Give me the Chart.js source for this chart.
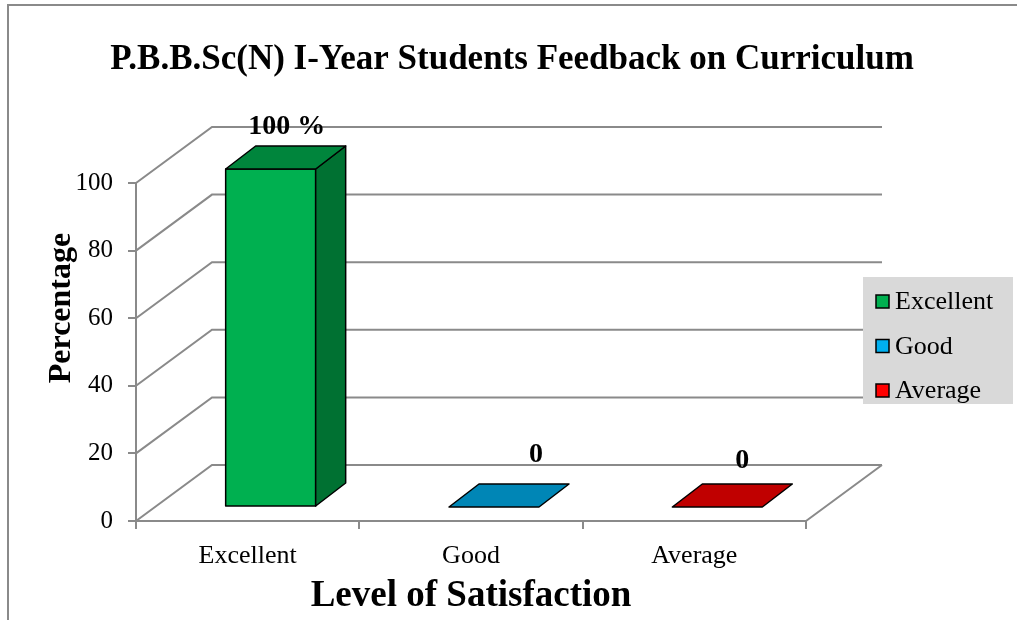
<!DOCTYPE html>
<html>
<head>
<meta charset="utf-8">
<script src="https://cdn.jsdelivr.net/npm/chart.js@4"></script>
<style>
	html, body { margin: 0; padding: 0; background: #fff; }
	#wrap { width: 1017px; height: 620px; }
</style>
</head>
<body>
<div id="wrap"><canvas id="chart"></canvas></div>
<script>
const categories = ["Excellent", "Good", "Average"];
const percentages = [100, 0, 0];
const valueLabels = ["100 %", "0", "0"];
const yTicks = [0, 20, 40, 60, 80, 100];

const chartTitle = "P.B.B.Sc(N) I-Year Students Feedback on Curriculum";
const yTitle = "Percentage";
const xTitle = "Level of Satisfaction";

// colours of the faces, Excel 3D style
const legendColors = ["#00B050", "#00B0F0", "#FF0000"];
const frontColors = ["#00B050", "#00B0F0", "#FF0000"];
const topColors = ["#00853C", "#0086B6", "#C00000"];
const sideColors = ["#007132", "#006E96", "#A00000"];

const SERIF = "'Liberation Serif', 'Times New Roman', serif";
const GRID = "#8a8a8a";
const WALL = { x: 76, y: -56 };
const BAR_FRONT = { x: 23, y: -14 };
const BAR_DEPTH = { x: 30, y: -23 };
const labelShift = [[1, -12], [27, -22], [10, -16]];

function poly(ctx, pts, fill) {
	ctx.beginPath();
	ctx.moveTo(pts[0][0], pts[0][1]);
	for (let i = 1; i < pts.length; i++) ctx.lineTo(pts[i][0], pts[i][1]);
	ctx.closePath();
	ctx.fillStyle = fill;
	ctx.fill();
	ctx.stroke();
}

const excelLook = {
	id: "excelLook",
	beforeDraw(chart) {
		const { ctx, width, height } = chart;
		ctx.save();
		ctx.fillStyle = "#fff";
		ctx.fillRect(0, 0, width, height);
		ctx.strokeStyle = GRID;
		ctx.lineWidth = 2;
		ctx.beginPath();
		ctx.moveTo(8, height);
		ctx.lineTo(8, 5);
		ctx.lineTo(width, 5);
		ctx.stroke();

		ctx.fillStyle = "#000";
		ctx.textAlign = "center";
		ctx.textBaseline = "alphabetic";
		ctx.font = "bold 35px " + SERIF;
		ctx.fillText(chartTitle, 512, 69);

		ctx.translate(70, 308);
		ctx.rotate(-Math.PI / 2);
		ctx.font = "bold 32px " + SERIF;
		ctx.fillText(yTitle, 0, 0);
		ctx.restore();
	},
	beforeDatasetsDraw(chart) {
		const { ctx, chartArea } = chart;
		const y = chart.scales.y;
		ctx.save();
		ctx.strokeStyle = GRID;
		ctx.lineWidth = 2;
		ctx.beginPath();
		yTicks.forEach(v => {
			const py = y.getPixelForValue(v);
			ctx.moveTo(chartArea.left, py);
			ctx.lineTo(chartArea.left + WALL.x, py + WALL.y);
			ctx.lineTo(chartArea.right + WALL.x, py + WALL.y);
		});
		ctx.moveTo(chartArea.right, chartArea.bottom);
		ctx.lineTo(chartArea.right + WALL.x, chartArea.bottom + WALL.y);
		ctx.stroke();
		ctx.restore();
	},
	afterDatasetsDraw(chart) {
		const { ctx } = chart;
		const meta = chart.getDatasetMeta(0);
		ctx.save();
		ctx.strokeStyle = "#000";
		ctx.lineWidth = 1.5;
		ctx.lineJoin = "round";
		meta.data.forEach((bar, i) => {
			const x0 = bar.x - bar.width / 2 + BAR_FRONT.x;
			const x1 = bar.x + bar.width / 2 + BAR_FRONT.x;
			const top = bar.y + BAR_FRONT.y;
			const base = bar.base + BAR_FRONT.y;
			const dx = BAR_DEPTH.x, dy = BAR_DEPTH.y;
			if (base - top > 0.5) {
				poly(ctx, [[x0, top], [x1, top], [x1, base], [x0, base]], frontColors[i]);
				poly(ctx, [[x1, top], [x1 + dx, top + dy], [x1 + dx, base + dy], [x1, base]], sideColors[i]);
			}
			poly(ctx, [[x0, top], [x0 + dx, top + dy], [x1 + dx, top + dy], [x1, top]], topColors[i]);

			ctx.fillStyle = "#000";
			ctx.font = "bold 28px " + SERIF;
			ctx.textAlign = "center";
			ctx.textBaseline = "alphabetic";
			ctx.fillText(valueLabels[i], (x0 + x1) / 2 + dx / 2 + labelShift[i][0], top + dy + labelShift[i][1]);
		});
		ctx.restore();
	},
	afterDraw(chart) {
		const { ctx } = chart;
		ctx.save();
		ctx.fillStyle = "#d9d9d9";
		ctx.fillRect(863, 277, 150, 127);
		ctx.font = "26px " + SERIF;
		ctx.textAlign = "left";
		ctx.textBaseline = "alphabetic";
		ctx.lineWidth = 1.5;
		ctx.strokeStyle = "#000";
		categories.forEach((name, i) => {
			const baseline = 309 + i * 44.5;
			ctx.fillStyle = legendColors[i];
			ctx.fillRect(876, baseline - 14, 13, 13);
			ctx.strokeRect(876, baseline - 14, 13, 13);
			ctx.fillStyle = "#000";
			ctx.fillText(name, 895, baseline);
		});
		ctx.restore();
	}
};

const ctx = document.getElementById("chart").getContext("2d");
const myChart = new Chart(ctx, {
	type: "bar",
	data: {
		labels: categories,
		datasets: [
			{
				label: "Percentage",
				data: percentages,
				backgroundColor: "rgba(0,0,0,0)",
				borderWidth: 0,
				categoryPercentage: 1,
				barPercentage: 0.403,
			},
		],
	},
	options: {
		responsive: true,
		maintainAspectRatio: false,
		animation: false,
		events: [],
		layout: { padding: { left: 8, right: 211, top: 183, bottom: 0 } },
		plugins: {
			legend: { display: false },
			tooltip: { enabled: false },
		},
		scales: {
			x: {
				grid: { offset: true, drawOnChartArea: false, drawTicks: true, tickLength: 8, color: GRID, lineWidth: 2 },
				border: { display: true, color: GRID, width: 2 },
				ticks: { color: "#000", font: { family: SERIF, size: 26 }, padding: 12, maxRotation: 0 },
				title: {
					display: true,
					text: xTitle,
					color: "#000",
					font: { family: SERIF, size: 37, weight: "bold" },
					padding: { top: 0, bottom: 1 },
				},
				afterFit(scale) { scale.height = 99; },
			},
			y: {
				min: 0,
				max: 100,
				afterBuildTicks(scale) { scale.ticks = yTicks.map(v => ({ value: v })); },
				grid: { drawOnChartArea: false, drawTicks: true, tickLength: 8, color: GRID, lineWidth: 2 },
				border: { display: true, color: GRID, width: 2 },
				ticks: { color: "#000", font: { family: SERIF, size: 25 }, padding: 15 },
				afterFit(scale) { scale.width = 128; },
			},
		},
	},
	plugins: [excelLook],
});
</script>
</body>
</html>
